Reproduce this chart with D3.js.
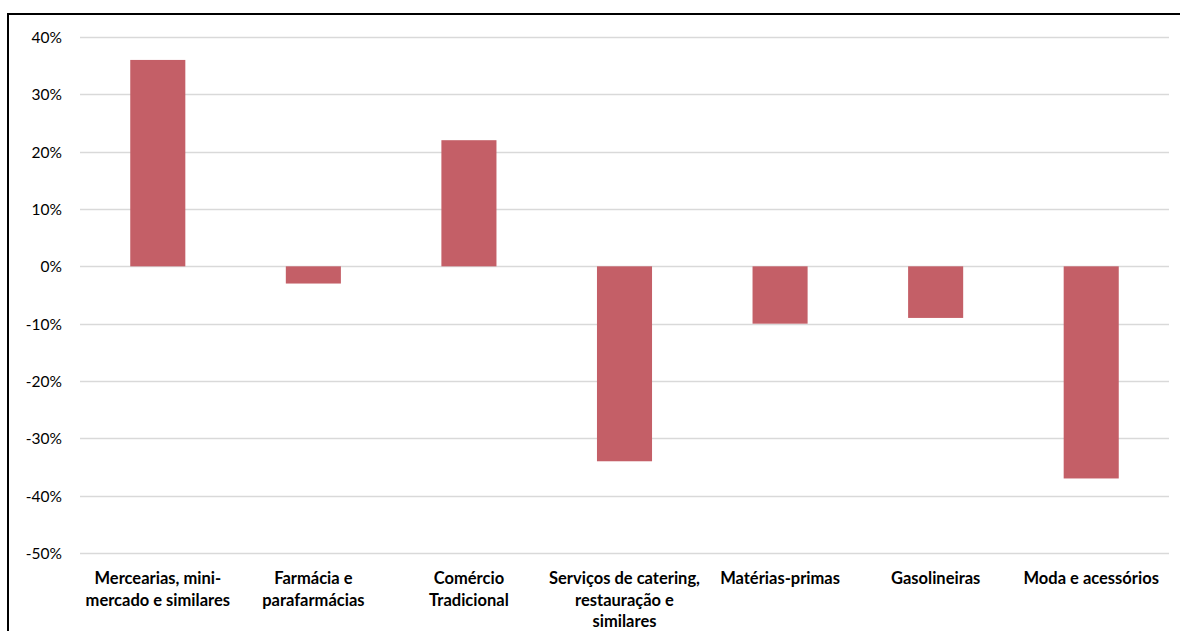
<!DOCTYPE html>
<html>
<head>
<meta charset="utf-8">
<script src="https://cdn.jsdelivr.net/npm/d3@7"></script>
<style>
  html, body { margin: 0; padding: 0; background: #fff; overflow: hidden; }
  svg { display: block; }
</style>
</head>
<body>
<svg id="chart" width="1180" height="631"></svg>
<script>
// Sector categories (wrapped label lines) and year-on-year change in percent
const categories = [
  "Mercearias, mini-mercado e similares",
  "Farmácia e parafarmácias",
  "Comércio Tradicional",
  "Serviços de catering, restauração e similares",
  "Matérias-primas",
  "Gasolineiras",
  "Moda e acessórios"
];
const categoryLines = [
  ["Mercearias, mini-", "mercado e similares"],
  ["Farmácia e", "parafarmácias"],
  ["Comércio", "Tradicional"],
  ["Serviços de catering,", "restauração e", "similares"],
  ["Matérias-primas"],
  ["Gasolineiras"],
  ["Moda e acessórios"]
];
const values = [36, -3, 22, -34, -10, -9, -37];
const yTicks = [40, 30, 20, 10, 0, -10, -20, -30, -40, -50];

const svg = d3.select("#chart");
const font = "Lato, 'Open Sans', sans-serif";

// chart frame (runs off the right/bottom edge)
svg.append("rect")
  .attr("x", 8).attr("y", 14)
  .attr("width", 1200).attr("height", 650)
  .attr("fill", "#fff")
  .attr("stroke", "#000")
  .attr("stroke-width", 2);

const plot = { left: 80, right: 1169, top: 37, bottom: 553 };

const x = d3.scaleBand()
  .domain(categories)
  .range([plot.left, plot.right])
  .paddingInner(0)
  .paddingOuter(0);

const y = d3.scaleLinear()
  .domain([-50, 40])
  .range([plot.bottom, plot.top]);

const barW = x.bandwidth() * 0.354;

// horizontal gridlines
svg.append("g")
  .selectAll("line")
  .data(yTicks)
  .join("line")
  .attr("x1", plot.left).attr("x2", plot.right)
  .attr("y1", d => Math.round(y(d)) + 0.5)
  .attr("y2", d => Math.round(y(d)) + 0.5)
  .attr("stroke", "#d9d9d9")
  .attr("stroke-width", 1.3);

// y axis tick labels
const yAxis = d3.axisLeft(y)
  .tickValues(yTicks)
  .tickFormat(d => d + "%")
  .tickSize(0)
  .tickPadding(0);

const yg = svg.append("g")
  .attr("transform", `translate(${62},0)`)
  .call(yAxis);
yg.select(".domain").remove();
yg.selectAll("text")
  .attr("font-family", font)
  .attr("font-size", 15.5)
  .attr("dy", "0.36em")
  .attr("fill", "#000");

// bars
svg.append("g")
  .selectAll("rect")
  .data(values)
  .join("rect")
  .attr("x", (d, i) => x(categories[i]) + (x.bandwidth() - barW) / 2)
  .attr("y", d => y(Math.max(0, d)))
  .attr("width", barW)
  .attr("height", d => Math.abs(y(d) - y(0)))
  .attr("fill", "#c45f67");

// category labels
const labels = svg.append("g")
  .selectAll("text")
  .data(categories)
  .join("text")
  .attr("text-anchor", "middle")
  .attr("font-family", font)
  .attr("font-weight", "bold")
  .attr("font-size", 16.5)
  .attr("fill", "#000")
  .attr("transform", d => `translate(${x(d) + x.bandwidth() / 2},584)`);

labels.selectAll("tspan")
  .data((d, i) => categoryLines[i])
  .join("tspan")
  .attr("x", 0)
  .attr("y", (d, j) => j * 21.6)
  .text(d => d);
</script>
</body>
</html>
